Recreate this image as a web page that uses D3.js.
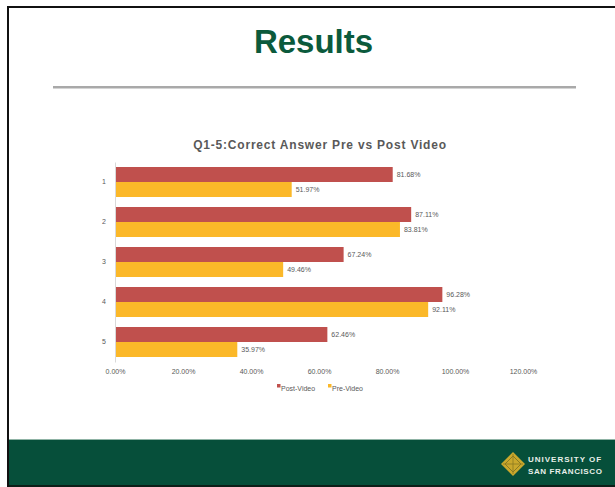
<!DOCTYPE html>
<html><head><meta charset="utf-8">
<script src="https://cdn.jsdelivr.net/npm/d3@7"></script>
<style>body{margin:0;background:#fff}svg{display:block;font-family:"Liberation Sans",Arial,sans-serif}</style>
</head><body>
<svg id="c" width="615" height="487"></svg>
<script>
const categories = ["1","2","3","4","5"];
const postVideo = [81.68, 87.11, 67.24, 96.28, 62.46];
const preVideo = [51.97, 83.81, 49.46, 92.11, 35.97];
const seriesNames = ["Post-Video","Pre-Video"];
const tickValues = [0,20,40,60,80,100,120];
const tickLabels = ["0.00%","20.00%","40.00%","60.00%","80.00%","100.00%","120.00%"];

const colors = ["#c0504d","#fbb829"];
const svg = d3.select("#c");

// slide frame
svg.append("rect").attr("x",0).attr("y",0).attr("width",615).attr("height",487).attr("fill","#fff");
svg.append("rect").attr("x",7).attr("y",6).attr("width",608).attr("height",2).attr("fill","#111");
svg.append("rect").attr("x",7).attr("y",6).attr("width",2).attr("height",481).attr("fill","#111");
// green footer
svg.append("rect").attr("x",9).attr("y",439).attr("width",606).attr("height",1.5).attr("fill","#8fb3a5");
svg.append("rect").attr("x",9).attr("y",440).attr("width",606).attr("height",45).attr("fill","#064f3a");
svg.append("rect").attr("x",9).attr("y",485).attr("width",606).attr("height",2).attr("fill","#0c1f18");

// title
svg.append("text").attr("x",313.5).attr("y",53).attr("text-anchor","middle")
  .attr("font-size",33).attr("font-weight","bold").attr("fill","#0b5a3c").text("Results");
svg.append("rect").attr("x",53).attr("y",86).attr("width",523).attr("height",2.5).attr("fill","#a9a9a9");

// chart
const x = d3.scaleLinear().domain([0,120]).range([115,523]);
const y = d3.scaleBand().domain(categories).range([162,362]).paddingInner(0.25).paddingOuter(0.125);
const ys = d3.scaleBand().domain(seriesNames).range([0,y.bandwidth()]);

svg.append("text").attr("x",320).attr("y",149).attr("text-anchor","middle")
  .attr("font-size",12).attr("font-weight","bold").attr("letter-spacing",0.8)
  .attr("fill","#595959").text("Q1-5:Correct Answer Pre vs Post Video");

const data = [postVideo, preVideo];
data.forEach((vals,si)=>{
  const g = svg.append("g");
  g.selectAll("rect").data(vals).join("rect")
    .attr("x",x(0)).attr("y",(d,i)=>y(categories[i])+ys(seriesNames[si]))
    .attr("width",d=>x(d)-x(0)).attr("height",ys.bandwidth())
    .attr("fill",colors[si]);
  g.selectAll("text").data(vals).join("text")
    .attr("x",d=>x(d)+4).attr("y",(d,i)=>y(categories[i])+ys(seriesNames[si])+ys.bandwidth()/2+2.5)
    .attr("font-size",7).attr("fill","#595959").text(d=>d.toFixed(2)+"%");
});

// y axis
const ya = svg.append("g").attr("transform",`translate(${x(0)},0)`).call(d3.axisLeft(y).tickSize(0).tickPadding(9));
ya.select(".domain").attr("stroke","#d9d9d9");
ya.selectAll("text").attr("font-size",7).attr("fill","#595959").attr("font-family","Liberation Sans, Arial, sans-serif");

// x axis labels (no line)
const xa = svg.append("g").attr("transform","translate(0,361)")
  .call(d3.axisBottom(x).tickValues(tickValues).tickSize(0).tickPadding(8).tickFormat((d,i)=>tickLabels[i]));
xa.select(".domain").remove();
xa.selectAll("text").attr("font-size",7).attr("fill","#595959").attr("font-family","Liberation Sans, Arial, sans-serif");

// legend
const lg = svg.append("g");
const lx = [277, 328];
seriesNames.forEach((n,i)=>{
  lg.append("rect").attr("x",lx[i]).attr("y",384).attr("width",3.5).attr("height",3.5).attr("fill",colors[i]);
  lg.append("text").attr("x",lx[i]+4).attr("y",391).attr("font-size",7).attr("fill","#595959").text(n);
});

// logo
const lgo = svg.append("g").attr("transform","translate(513,464)");
lgo.append("path").attr("d","M0,-12 L12,0 L0,12 L-12,0 Z").attr("fill","#c9a82c");
lgo.append("path").attr("d","M0,-8 L8,0 L0,8 L-8,0 Z").attr("fill","none").attr("stroke","#8a7a22").attr("stroke-width",1);
lgo.append("path").attr("d","M0,-10 V10 M-10,0 H10").attr("stroke","#8a7a22").attr("stroke-width",0.8);
svg.append("text").attr("x",528).attr("y",462).attr("font-size",8).attr("font-weight","bold")
  .attr("letter-spacing",1).attr("fill","#e8efe9").text("UNIVERSITY OF");
svg.append("text").attr("x",528).attr("y",474).attr("font-size",8).attr("font-weight","bold")
  .attr("letter-spacing",0.6).attr("fill","#e8efe9").text("SAN FRANCISCO");
</script>
</body></html>
